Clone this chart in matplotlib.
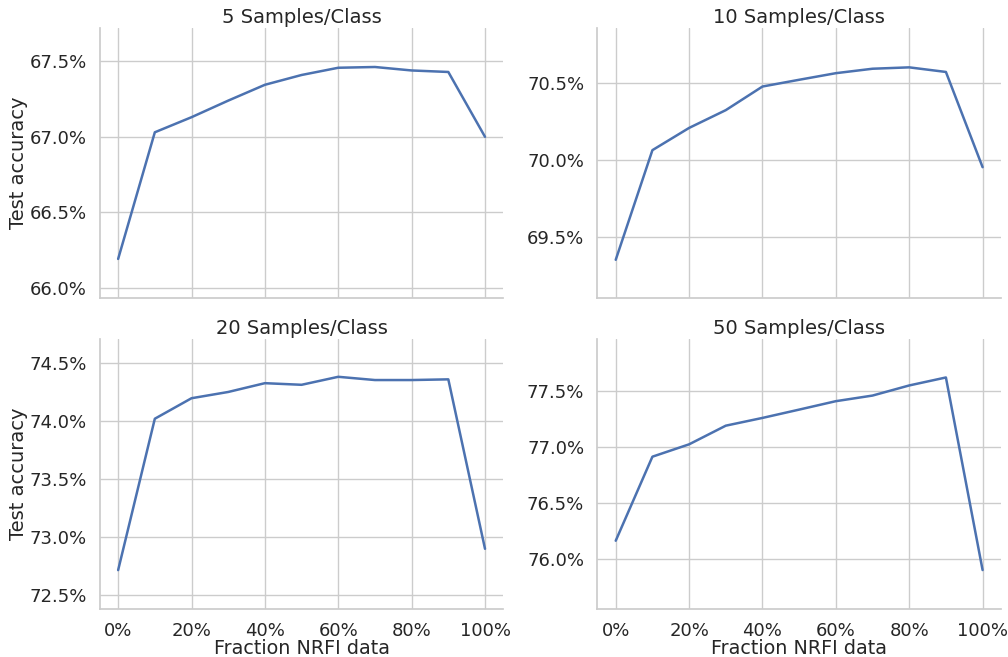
"""
Test accuracy vs. fraction of NRFI data, one panel per samples/class budget.
"""

import matplotlib
matplotlib.use("Agg")
import matplotlib.pyplot as plt
import seaborn as sns
from matplotlib.ticker import MultipleLocator, PercentFormatter

# Fraction of NRFI data used (x axis)
fractions = [0.0, 0.1, 0.2, 0.3, 0.4, 0.5, 0.6, 0.7, 0.8, 0.9, 1.0]

# Test accuracy (%) per samples/class setting
acc_5 = [66.19, 67.03, 67.13, 67.24, 67.345, 67.41, 67.458, 67.463, 67.44, 67.43, 67.0]
acc_10 = [69.35, 70.065, 70.21, 70.326, 70.48, 70.524, 70.567, 70.596, 70.605, 70.575, 69.954]
acc_20 = [72.716, 74.023, 74.2, 74.254, 74.33, 74.316, 74.385, 74.357, 74.357, 74.363, 72.90]
acc_50 = [76.163, 76.911, 77.021, 77.187, 77.256, 77.33, 77.405, 77.455, 77.545, 77.616, 75.902]

titles = ["5 Samples/Class", "10 Samples/Class", "20 Samples/Class", "50 Samples/Class"]
series = [acc_5, acc_10, acc_20, acc_50]
ylims = [(65.93, 67.72), (69.10, 70.86), (72.38, 74.71), (75.555, 77.957)]

sns.set_theme(style="whitegrid", font_scale=1.2)

fig, axes = plt.subplots(2, 2, figsize=(10.08, 6.57), dpi=100, sharex=True)
fig.subplots_adjust(left=0.099, right=0.993, top=0.957, bottom=0.073,
                    wspace=0.233, hspace=0.152)

for ax, title, acc, ylim in zip(axes.flat, titles, series, ylims):
    ax.plot(fractions, acc, color="#4c72b0", linewidth=1.8)
    ax.set_title(title, fontsize=14, pad=3.5)
    ax.set_ylim(*ylim)
    ax.set_xlim(-0.05, 1.05)
    ax.yaxis.set_major_locator(MultipleLocator(0.5))
    ax.yaxis.set_major_formatter(PercentFormatter(xmax=100, decimals=1))
    ax.xaxis.set_major_locator(MultipleLocator(0.2))
    ax.xaxis.set_major_formatter(PercentFormatter(xmax=1, decimals=0))
    ax.tick_params(labelsize=13)
    sns.despine(ax=ax)

for ax in axes[:, 0]:
    ax.set_ylabel("Test accuracy", fontsize=14, labelpad=1)
for ax in axes[1, :]:
    ax.set_xlabel("Fraction NRFI data", fontsize=13.8, labelpad=-1)

fig.savefig("out.png", dpi=100)
